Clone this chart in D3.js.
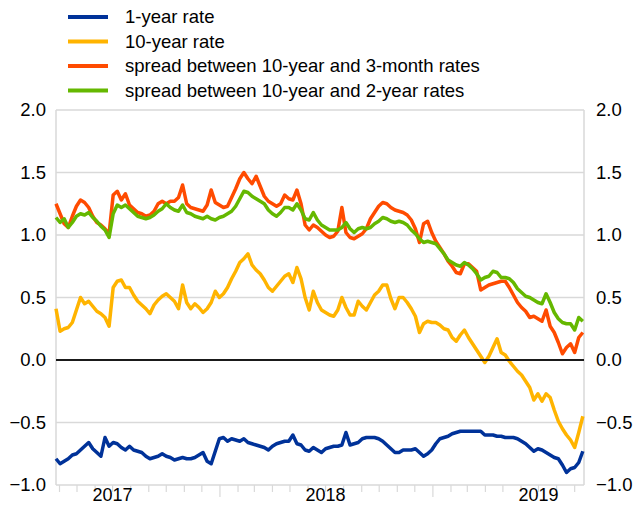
<!DOCTYPE html>
<html><head><meta charset="utf-8">
<script src="https://cdnjs.cloudflare.com/ajax/libs/d3/7.8.5/d3.min.js"></script>
<style>body{margin:0;background:#fff}text{font-family:"Liberation Sans",Arial,sans-serif;fill:#000}</style>
</head><body><svg id="c" width="642" height="506"></svg>
<script>
// weekly observations starting 2017-03-26
const startDate = "2017-03-26";
const seriesNames = ["1-year rate","10-year rate","spread between 10-year and 3-month rates","spread between 10-year and 2-year rates"];
const seriesColors = ["#003299","#FFB400","#FF4B00","#65B800"];
const oneYear = [-0.79,-0.83,-0.81,-0.79,-0.76,-0.75,-0.72,-0.69,-0.66,-0.71,-0.74,-0.77,-0.62,-0.69,-0.66,-0.67,-0.70,-0.72,-0.69,-0.72,
-0.73,-0.74,-0.77,-0.79,-0.78,-0.77,-0.75,-0.77,-0.78,-0.80,-0.79,-0.78,-0.79,-0.79,-0.78,-0.76,-0.74,-0.81,-0.83,-0.73,
-0.63,-0.62,-0.65,-0.63,-0.64,-0.65,-0.63,-0.66,-0.67,-0.68,-0.69,-0.70,-0.72,-0.69,-0.67,-0.66,-0.65,-0.65,-0.60,-0.67,
-0.68,-0.72,-0.73,-0.70,-0.72,-0.74,-0.71,-0.70,-0.69,-0.69,-0.68,-0.58,-0.68,-0.67,-0.66,-0.63,-0.62,-0.62,-0.62,-0.63,
-0.65,-0.68,-0.71,-0.74,-0.74,-0.72,-0.72,-0.72,-0.71,-0.74,-0.77,-0.75,-0.72,-0.67,-0.63,-0.62,-0.61,-0.59,-0.58,-0.57,
-0.57,-0.57,-0.57,-0.57,-0.57,-0.60,-0.60,-0.60,-0.61,-0.61,-0.62,-0.62,-0.62,-0.63,-0.65,-0.67,-0.70,-0.73,-0.71,-0.72,
-0.74,-0.76,-0.78,-0.79,-0.84,-0.90,-0.87,-0.86,-0.82,-0.73];
const tenYear = [0.41,0.23,0.25,0.26,0.30,0.40,0.50,0.45,0.47,0.43,0.39,0.37,0.34,0.27,0.58,0.63,0.64,0.58,0.58,0.52,
0.47,0.44,0.41,0.37,0.44,0.48,0.51,0.53,0.50,0.47,0.41,0.60,0.46,0.41,0.45,0.42,0.38,0.41,0.46,0.55,
0.50,0.53,0.58,0.65,0.71,0.78,0.81,0.85,0.76,0.72,0.69,0.64,0.58,0.55,0.59,0.63,0.67,0.69,0.62,0.74,
0.65,0.50,0.40,0.55,0.46,0.40,0.38,0.36,0.35,0.40,0.50,0.42,0.36,0.36,0.47,0.43,0.40,0.46,0.52,0.55,
0.60,0.60,0.49,0.41,0.50,0.50,0.46,0.41,0.35,0.22,0.29,0.31,0.30,0.30,0.28,0.25,0.24,0.18,0.15,0.20,
0.24,0.18,0.13,0.08,0.03,-0.02,0.03,0.10,0.17,0.06,0.04,-0.01,-0.05,-0.09,-0.12,-0.17,-0.22,-0.32,-0.27,-0.33,
-0.27,-0.30,-0.40,-0.49,-0.55,-0.60,-0.64,-0.70,-0.58,-0.45];
const spread3m = [1.25,1.17,1.09,1.06,1.15,1.23,1.28,1.26,1.22,1.15,1.10,1.08,1.05,1.01,1.32,1.35,1.28,1.33,1.24,1.21,
1.18,1.17,1.15,1.16,1.19,1.25,1.27,1.25,1.27,1.27,1.30,1.40,1.25,1.22,1.21,1.20,1.19,1.24,1.36,1.26,
1.24,1.22,1.23,1.30,1.37,1.45,1.50,1.45,1.41,1.47,1.39,1.31,1.27,1.25,1.23,1.25,1.32,1.29,1.28,1.36,
1.25,1.08,1.04,1.08,1.06,1.03,1.00,0.98,0.99,1.03,1.22,1.02,0.98,0.97,0.99,1.01,1.05,1.13,1.18,1.23,
1.26,1.25,1.22,1.20,1.19,1.18,1.16,1.12,1.05,0.94,1.09,1.11,1.02,0.95,0.90,0.85,0.79,0.75,0.70,0.69,
0.77,0.77,0.74,0.71,0.56,0.58,0.60,0.61,0.62,0.63,0.63,0.58,0.52,0.46,0.42,0.39,0.34,0.35,0.33,0.31,
0.40,0.27,0.22,0.14,0.05,0.10,0.13,0.06,0.18,0.22];
const spread2y = [1.14,1.10,1.13,1.06,1.10,1.15,1.17,1.16,1.18,1.14,1.11,1.07,1.04,0.98,1.17,1.24,1.22,1.24,1.21,1.18,
1.15,1.14,1.13,1.14,1.16,1.19,1.21,1.25,1.22,1.20,1.19,1.24,1.18,1.17,1.15,1.14,1.13,1.15,1.13,1.12,
1.14,1.15,1.17,1.19,1.23,1.29,1.35,1.34,1.31,1.29,1.27,1.25,1.20,1.17,1.15,1.18,1.22,1.22,1.20,1.25,
1.20,1.13,1.12,1.18,1.12,1.08,1.06,1.04,1.04,1.04,1.06,1.10,1.05,1.02,1.05,1.06,1.05,1.06,1.09,1.11,
1.14,1.13,1.11,1.10,1.11,1.10,1.08,1.04,1.01,0.97,0.94,0.95,0.94,0.93,0.89,0.85,0.80,0.78,0.76,0.75,
0.78,0.76,0.73,0.69,0.64,0.66,0.67,0.71,0.70,0.66,0.66,0.65,0.62,0.57,0.54,0.51,0.50,0.48,0.46,0.45,
0.53,0.46,0.38,0.33,0.30,0.29,0.29,0.24,0.34,0.31];
const yTicks = [-1.0,-0.5,0.0,0.5,1.0,1.5,2.0];
const yearLabels = ["2017","2018","2019"];

const svg = d3.select("#c");
const L = 56, R = 584, T = 110, B = 485;
const FS = 18.5;
const parse = d3.utcParse("%Y-%m-%d");
const x = d3.scaleUtc().domain([parse("2017-03-26"), parse("2019-09-17")]).range([L, R]);
const y = d3.scaleLinear().domain([-1, 2]).range([B, T]);
const t0 = parse(startDate);
const dates = oneYear.map((_, i) => d3.utcDay.offset(t0, 7 * i));

// gridlines
svg.append("g").selectAll("line").data(yTicks.filter(v => v !== 0)).join("line")
  .attr("x1", L).attr("x2", R).attr("y1", d => y(d)).attr("y2", d => y(d))
  .attr("stroke", "#d9d9d9").attr("stroke-width", 1.5);
svg.append("line").attr("x1", L).attr("x2", L).attr("y1", T).attr("y2", B).attr("stroke", "#d9d9d9").attr("stroke-width", 1.5);
svg.append("line").attr("x1", R).attr("x2", R).attr("y1", T).attr("y2", B).attr("stroke", "#d9d9d9").attr("stroke-width", 1.5);

// y axes labels
const fmt = d3.format(".1f");
svg.append("g").selectAll("text").data(yTicks).join("text")
  .attr("x", 46).attr("y", d => y(d)).attr("dy", "0.35em").attr("text-anchor", "end")
  .attr("font-size", FS).text(d => fmt(d));
svg.append("g").selectAll("text").data(yTicks).join("text")
  .attr("x", 596).attr("y", d => y(d)).attr("dy", "0.35em").attr("text-anchor", "start")
  .attr("font-size", FS).text(d => fmt(d));

// x axis ticks
const months = d3.utcMonth.range(parse("2017-04-01"), parse("2019-09-17"));
svg.append("g").selectAll("line").data(months).join("line")
  .attr("x1", d => x(d)).attr("x2", d => x(d)).attr("y1", B)
  .attr("y2", d => d.getUTCMonth() === 0 ? B + 12 : B + 7)
  .attr("stroke", "#d9d9d9").attr("stroke-width", 1.2);
svg.append("g").selectAll("text").data(yearLabels).join("text")
  .attr("x", d => x(parse(d + "-07-01"))).attr("y", 501).attr("text-anchor", "middle")
  .attr("font-size", 18).text(d => d);

// series
const allSeries = [oneYear, tenYear, spread3m, spread2y];
const line = d3.line().defined(d => d.v !== null).x(d => x(d.t)).y(d => y(d.v));
allSeries.forEach((vals, k) => {
  svg.append("path").datum(vals.map((v, i) => ({t: dates[i], v})))
    .attr("fill", "none").attr("stroke", seriesColors[k]).attr("stroke-width", 3.5)
    .attr("stroke-linejoin", "round").attr("d", line);
});

// zero line
svg.append("line").attr("x1", L).attr("x2", R).attr("y1", y(0)).attr("y2", y(0)).attr("stroke", "#1a1a1a").attr("stroke-width", 2);

// legend
const lg = svg.append("g").selectAll("g").data(seriesNames).join("g")
  .attr("transform", (d, i) => `translate(0,${17 + i * 24.5})`);
lg.append("line").attr("x1", 68).attr("x2", 108).attr("stroke", (d, i) => seriesColors[i]).attr("stroke-width", 4);
lg.append("text").attr("x", 125).attr("dy", "0.35em").attr("font-size", FS).text(d => d);
</script></body></html>
